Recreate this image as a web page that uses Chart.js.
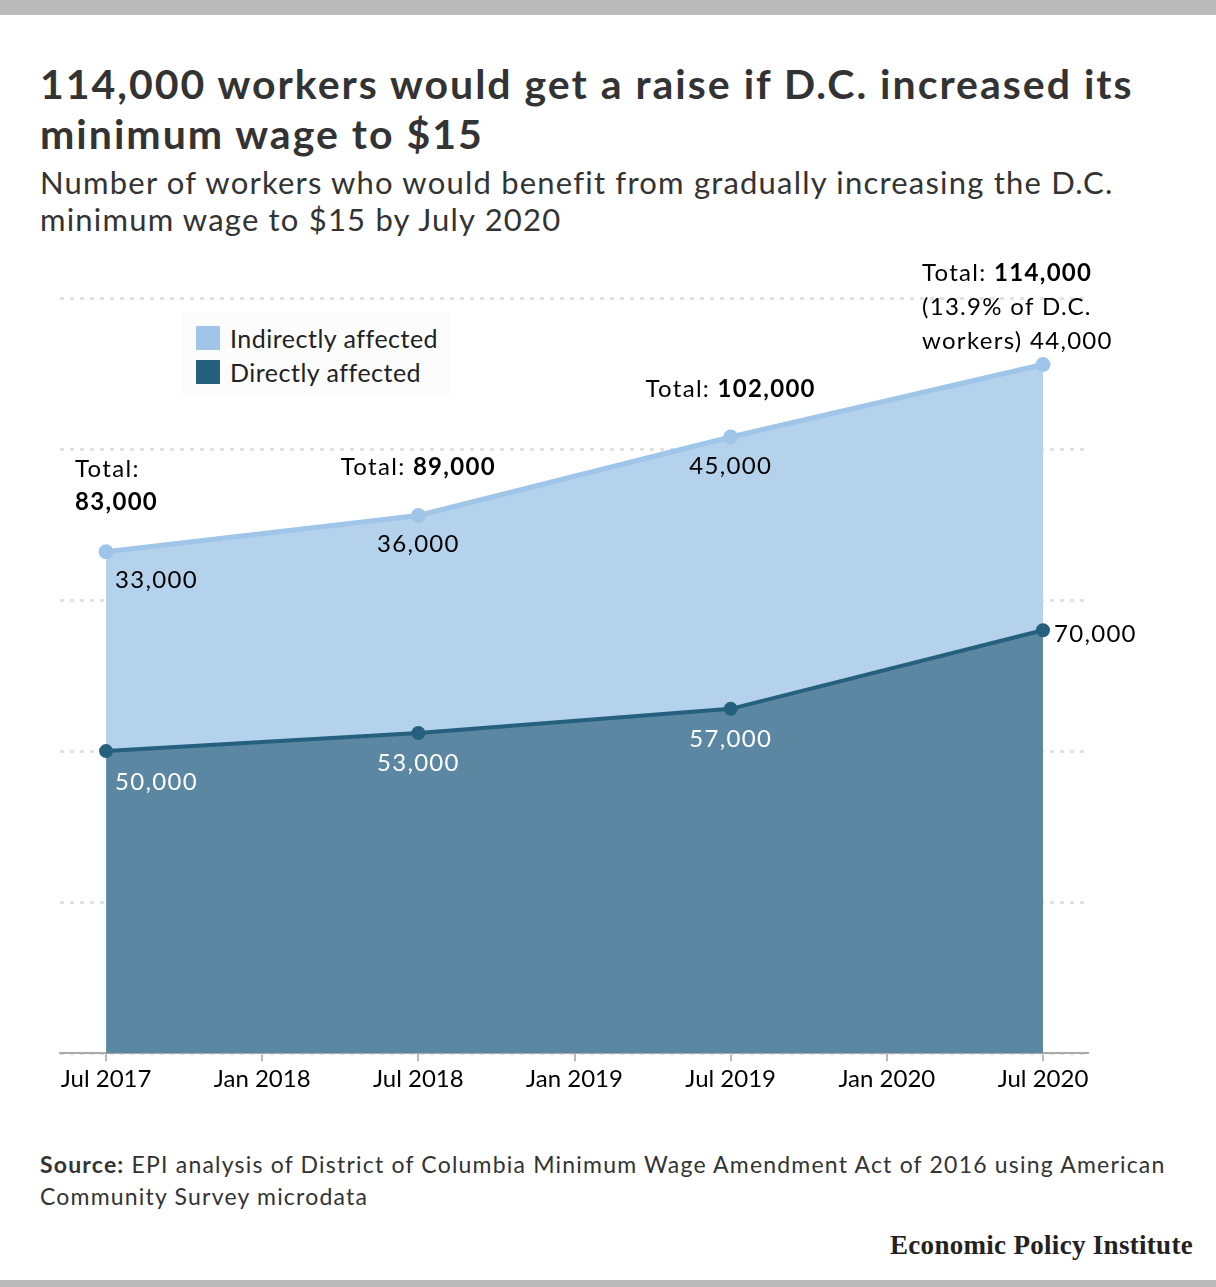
<!DOCTYPE html>
<html>
<head>
<meta charset="utf-8">
<script src="https://cdn.jsdelivr.net/npm/chart.js@4.4.1/dist/chart.umd.min.js"></script>
<style>
  html, body { margin: 0; padding: 0; background: #fff; }
  body { width: 1216px; height: 1287px; position: relative; overflow: hidden; font-family: Lato, "Open Sans", sans-serif; }
  .bar-top { position: absolute; left: 0; top: 0; width: 1216px; height: 15px; background: #bbbbbb; }
  .bar-bottom { position: absolute; left: 0; top: 1280px; width: 1216px; height: 7px; background: #bbbbbb; }
  h1 { position: absolute; left: 40px; top: 59px; margin: 0; width: 1170px; white-space: nowrap; font-size: 41px; line-height: 50px; font-weight: 700; color: #333; letter-spacing: 2px; }
  .subtitle { position: absolute; left: 40px; top: 164px; margin: 0; width: 1170px; white-space: nowrap; font-size: 31px; line-height: 37px; color: #333; letter-spacing: 1.2px; }
  .chart-wrap { position: absolute; left: 0; top: 250px; width: 1216px; height: 860px; }
  .legend { position: absolute; left: 182px; top: 313px; width: 268px; height: 85px; background: #fcfcfc; }
  .legend div { position: absolute; left: 14px; font-size: 25px; line-height: 24px; color: #222; letter-spacing: 0.5px; white-space: nowrap; }
  .legend span { display: inline-block; width: 24px; height: 24px; vertical-align: top; margin-right: 10px; }
  .source { position: absolute; left: 40px; top: 1148px; width: 1170px; white-space: nowrap; font-size: 23px; line-height: 32px; color: #333; letter-spacing: 1.2px; }
  .logo { position: absolute; right: 23px; top: 1230px; font-family: "Liberation Serif", serif; font-weight: 700; font-size: 27px; color: #222; letter-spacing: 0.3px; }
</style>
</head>
<body>
<div class="bar-top"></div>
<h1>114,000 workers would get a raise if D.C. increased its<br>minimum wage to $15</h1>
<p class="subtitle">Number of workers who would benefit from gradually increasing the D.C.<br>minimum wage to $15 by July 2020</p>
<div class="chart-wrap"><canvas id="chart"></canvas></div>
<div class="legend">
  <div style="top:13px"><span style="background:#9fc5e8"></span>Indirectly affected</div>
  <div style="top:47px"><span style="background:#25607f"></span>Directly affected</div>
</div>
<div class="source"><b>Source:</b> EPI analysis of District of Columbia Minimum Wage Amendment Act of 2016 using American<br>Community Survey microdata</div>
<div class="logo">Economic Policy Institute</div>
<div class="bar-bottom"></div>
<script>
// months since Jul 2017
const months = [0, 12, 24, 36];
const directly = [50000, 53000, 57000, 70000];
const indirectly = [33000, 36000, 45000, 44000];
const totals = [83000, 89000, 102000, 114000];
const tickMonths = [0, 6, 12, 18, 24, 30, 36];
const tickLabels = ["Jul 2017", "Jan 2018", "Jul 2018", "Jan 2019", "Jul 2019", "Jan 2020", "Jul 2020"];
const yTicks = [0, 25000, 50000, 75000, 100000, 125000];

const fmt = v => v.toLocaleString("en-US");
const FONT = "Lato, 'Open Sans', sans-serif";

// draw a line made of [text, bold] parts
function drawParts(ctx, parts, x, y, align, color) {
  ctx.fillStyle = color;
  ctx.textBaseline = "middle";
  ctx.textAlign = "left";
  ctx.letterSpacing = "1.3px";
  let widths = parts.map(p => {
    ctx.font = (p[1] ? "700 " : "400 ") + "24px " + FONT;
    return ctx.measureText(p[0]).width;
  });
  let total = widths.reduce((a, b) => a + b, 0);
  let cx = align === "center" ? x - total / 2 : x;
  parts.forEach((p, i) => {
    ctx.font = (p[1] ? "700 " : "400 ") + "24px " + FONT;
    ctx.fillText(p[0], cx, y + 2);
    cx += widths[i];
  });
  ctx.letterSpacing = "0px";
}

const annotations = {
  id: "annotations",
  afterDatasetsDraw(chart) {
    const ctx = chart.ctx;
    const dark = chart.getDatasetMeta(0).data;
    const light = chart.getDatasetMeta(1).data;
    ctx.save();
    // Jul 2017
    drawParts(ctx, [["Total:", false]], light[0].x - 31, light[0].y - 84, "left", "#000");
    drawParts(ctx, [[fmt(totals[0]), true]], light[0].x - 31, light[0].y - 51, "left", "#000");
    drawParts(ctx, [[fmt(indirectly[0]), false]], light[0].x + 9, light[0].y + 27, "left", "#000");
    drawParts(ctx, [[fmt(directly[0]), false]], dark[0].x + 9, dark[0].y + 29, "left", "#fff");
    // Jul 2018, Jul 2019
    [1, 2].forEach(i => {
      drawParts(ctx, [["Total: ", false], [fmt(totals[i]), true]], light[i].x, light[i].y - 50, "center", "#000");
      drawParts(ctx, [[fmt(indirectly[i]), false]], light[i].x, light[i].y + 27, "center", "#000");
      drawParts(ctx, [[fmt(directly[i]), false]], dark[i].x, dark[i].y + 28, "center", "#fff");
    });
    // Jul 2020
    const p = light[3];
    drawParts(ctx, [["Total: ", false], [fmt(totals[3]), true]], p.x - 121, p.y - 93, "left", "#000");
    drawParts(ctx, [["(13.9% of D.C.", false]], p.x - 121, p.y - 59, "left", "#000");
    drawParts(ctx, [["workers) " + fmt(indirectly[3]), false]], p.x - 121, p.y - 25, "left", "#000");
    drawParts(ctx, [[fmt(directly[3]), false]], dark[3].x + 11, dark[3].y + 2, "left", "#000");
    ctx.restore();
  }
};

new Chart(document.getElementById("chart"), {
  type: "line",
  data: {
    datasets: [
      {
        label: "Directly affected",
        data: months.map((m, i) => ({ x: m, y: directly[i] })),
        borderColor: "#25607f",
        backgroundColor: "#5b87a2",
        pointBackgroundColor: "#25607f",
        borderWidth: 4,
        pointRadius: 5,
        fill: "origin",
        tension: 0
      },
      {
        label: "Indirectly affected",
        data: months.map((m, i) => ({ x: m, y: indirectly[i] })),
        borderColor: "#9fc5e8",
        backgroundColor: "#b4d2ec",
        pointBackgroundColor: "#9fc5e8",
        borderWidth: 5,
        pointRadius: 5,
        fill: "-1",
        tension: 0
      }
    ]
  },
  options: {
    responsive: true,
    maintainAspectRatio: false,
    animation: false,
    layout: { padding: { left: 60, right: 128, top: 48, bottom: 12 } },
    plugins: { legend: { display: false }, tooltip: { enabled: false } },
    scales: {
      x: {
        type: "linear",
        min: -1.77,
        max: 37.73,
        afterBuildTicks: axis => { axis.ticks = tickMonths.map(v => ({ value: v })); },
        ticks: {
          autoSkip: false,
          maxRotation: 0,
          color: "#000",
          font: { family: FONT, size: 24 },
          padding: 4,
          callback: v => tickLabels[tickMonths.indexOf(v)]
        },
        grid: { drawOnChartArea: false, drawTicks: true, tickLength: 8, color: "#bbb", lineWidth: 2 },
        border: { display: true, color: "#aaa", width: 2 }
      },
      y: {
        stacked: true,
        min: 0,
        max: 125000,
        afterBuildTicks: axis => { axis.ticks = yTicks.map(v => ({ value: v })); },
        ticks: { display: false },
        grid: { color: "#e2e2e2", lineWidth: 3, drawTicks: false },
        border: { display: false, dash: [4, 6] }
      }
    }
  },
  plugins: [annotations]
});
</script>
</body>
</html>
